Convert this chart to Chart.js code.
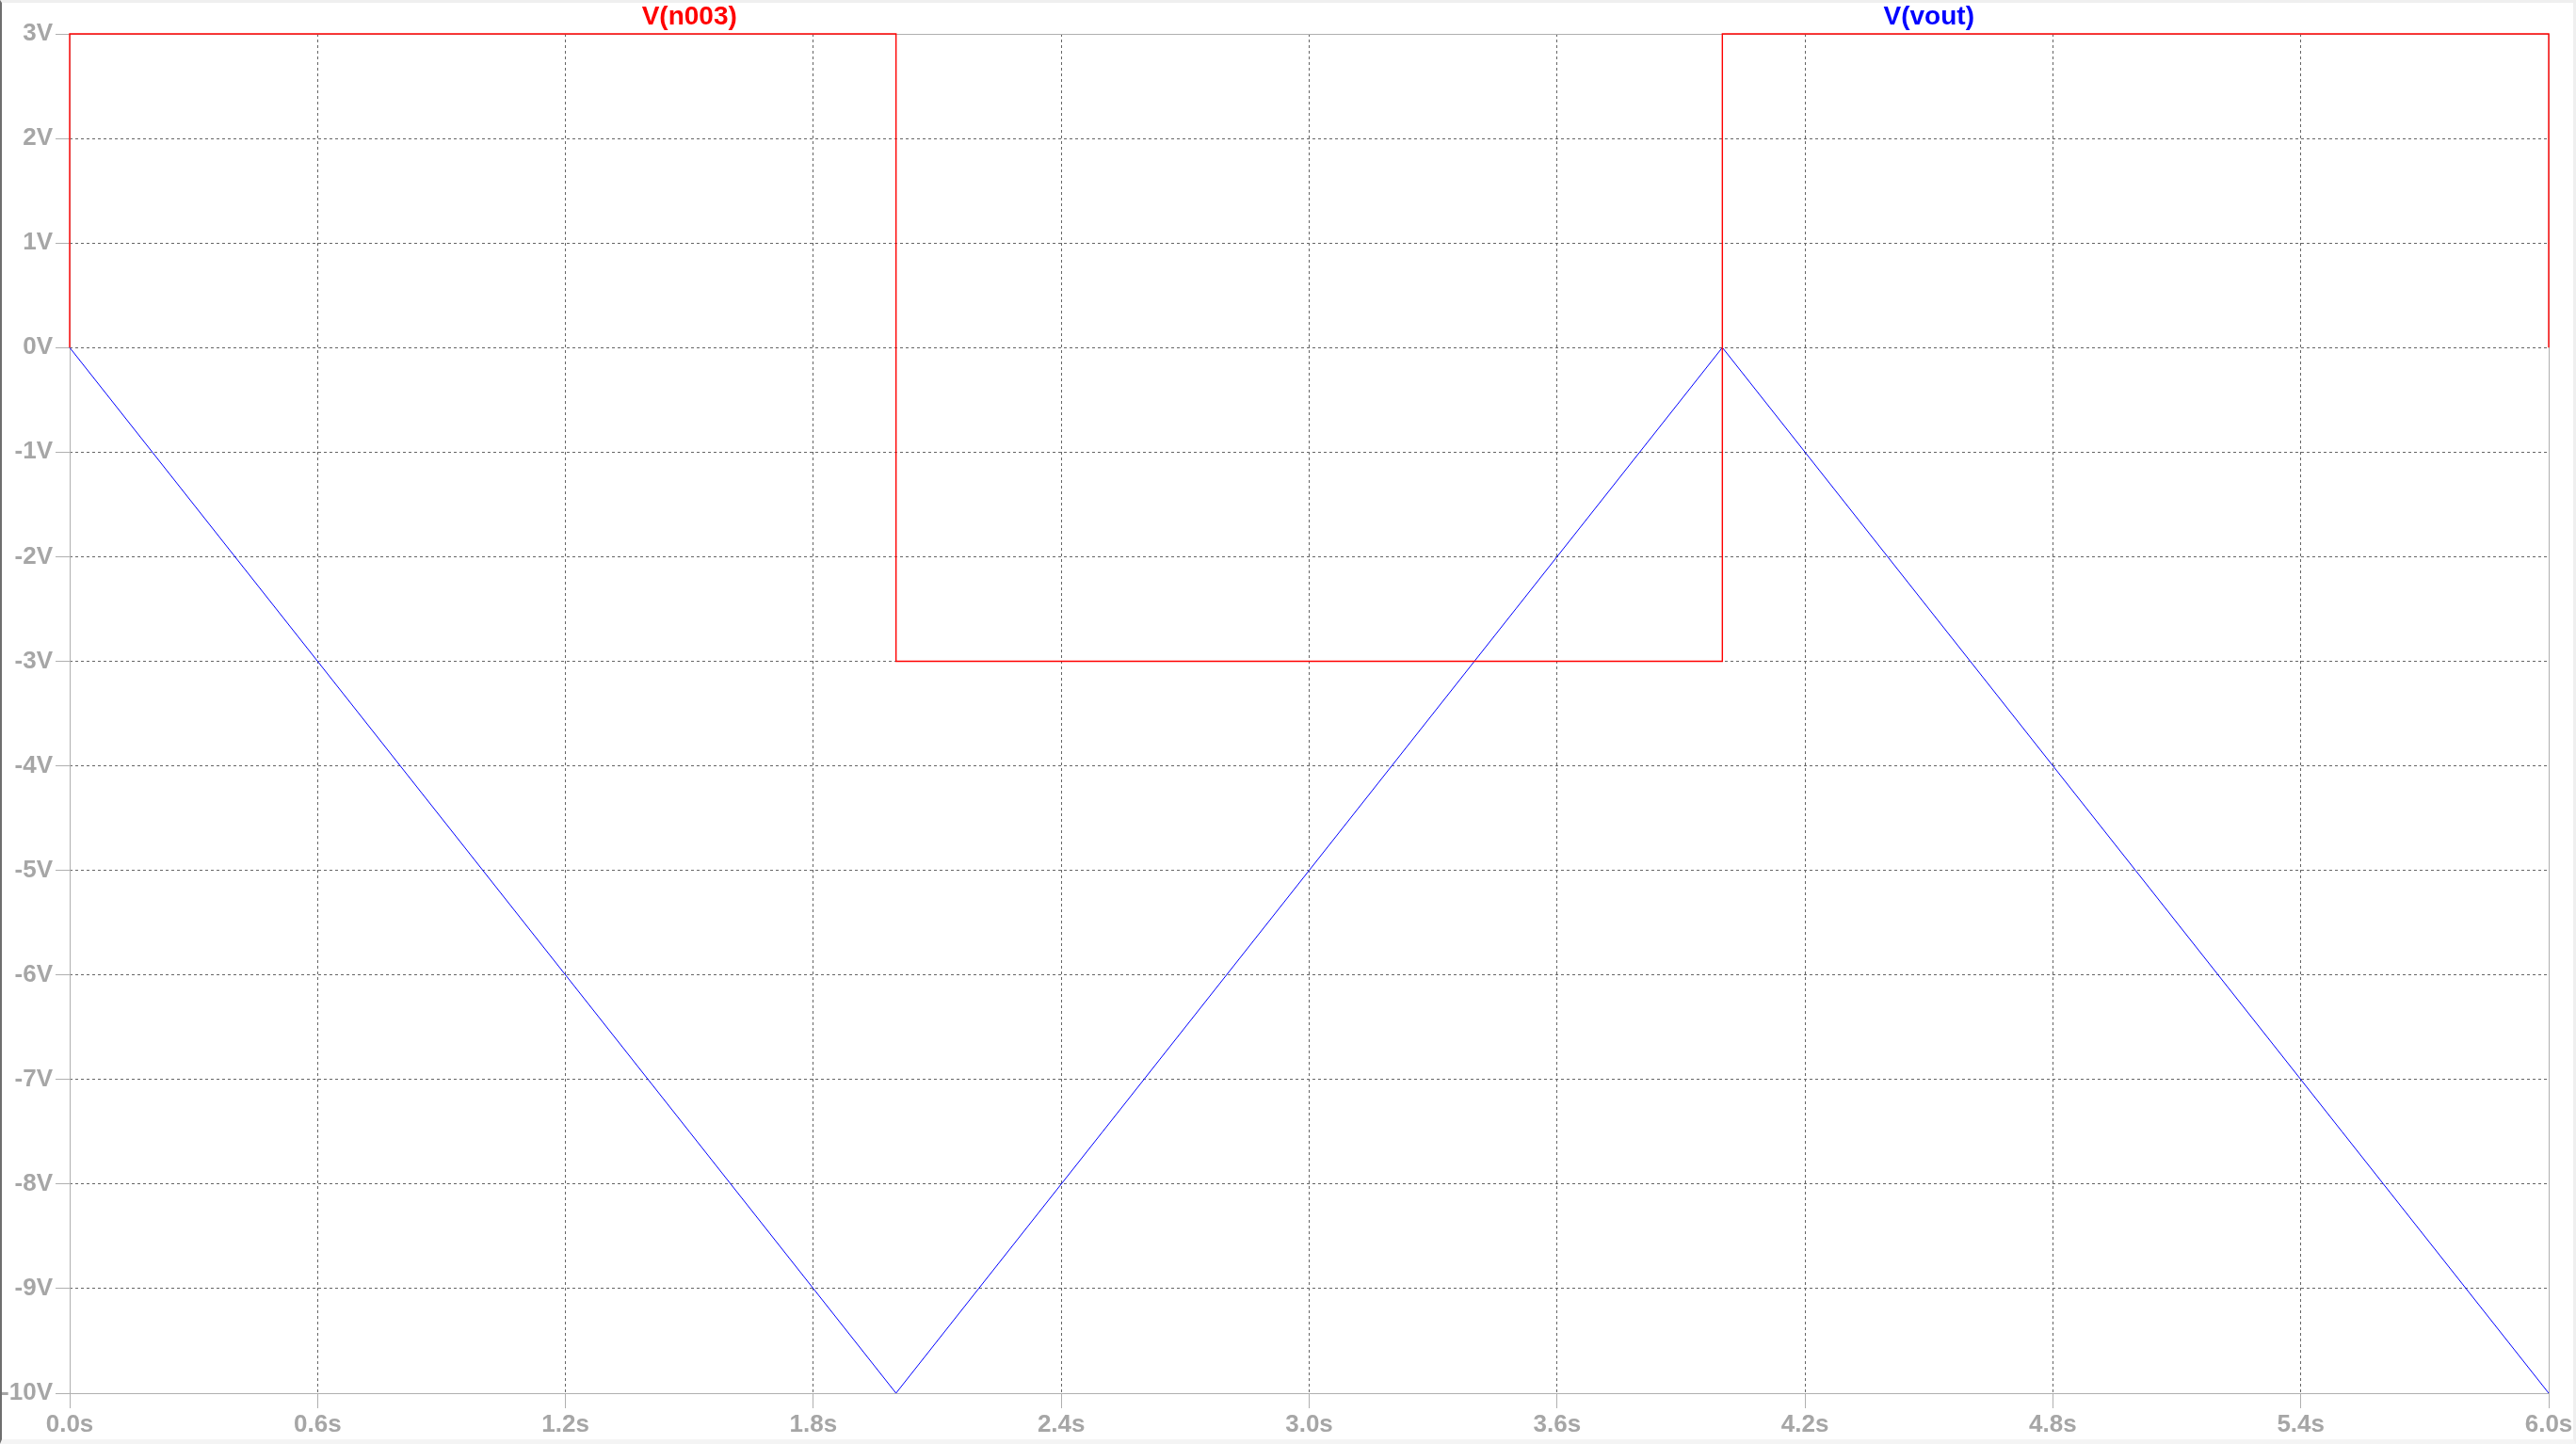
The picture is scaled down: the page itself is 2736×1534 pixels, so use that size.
<!DOCTYPE html>
<html>
<head>
<meta charset="utf-8">
<script src="https://cdn.jsdelivr.net/npm/chart.js@4.4.1/dist/chart.umd.min.js"></script>
<style>
  html, body { margin: 0; padding: 0; background: #fff; overflow: hidden; }
  #wrap { position: absolute; left: 0; top: 0; width: 2736px; height: 1534px; }
  #frame { position: absolute; left: 0; top: 0; width: 2736px; height: 1534px; box-sizing: border-box;
           border-left: 2px solid #6e6e6e; border-top: 3px solid #efefef; border-right: 3px solid #efefef;
           border-bottom: 5px solid #f4f4f4; pointer-events: none; }
</style>
</head>
<body>
<div id="wrap"><canvas id="c" width="2736" height="1534"></canvas></div>
<div id="frame"></div>
<script>
// ---- data ----
const seriesNames = ['V(n003)', 'V(vout)'];
const seriesColors = ['#ff0000', '#0000ff'];
const tN003 = [0, 0, 2, 2, 4, 4, 6, 6];
const vN003 = [0, 3, 3, -3, -3, 3, 3, 0];
const tVout = [0, 2, 4, 6];
const vVout = [0, -10, 0, -10];
const xTicks = [0, 0.6, 1.2, 1.8, 2.4, 3.0, 3.6, 4.2, 4.8, 5.4, 6.0];
const yTicks = [3, 2, 1, 0, -1, -2, -3, -4, -5, -6, -7, -8, -9, -10];

const toPts = (xs, ys) => xs.map((x, i) => ({ x: x, y: ys[i] }));

const FONT = "'Liberation Sans', Arial, sans-serif";
const labelColor = '#a6a6a6';

const framePlugin = {
  id: 'frame',
  beforeDraw(chart) {
    const c = chart.ctx;
    c.save();
    c.fillStyle = '#ffffff';
    c.fillRect(0, 0, chart.width, chart.height);
    c.restore();
  },
  beforeDatasetsDraw(chart) {
    const a = chart.chartArea, c = chart.ctx;
    c.save();
    c.strokeStyle = '#b0b0b0';
    c.lineWidth = 1;
    c.setLineDash([]);
    c.strokeRect(Math.round(a.left) + 0.5, Math.round(a.top) + 0.5,
                 Math.round(a.right - a.left), Math.round(a.bottom - a.top));
    c.restore();
  },
  afterDraw(chart) {
    const a = chart.chartArea, c = chart.ctx;
    c.save();
    c.font = 'bold 28px ' + FONT;
    c.textAlign = 'center';
    c.textBaseline = 'middle';
    const w = a.right - a.left;
    const n = seriesNames.length;
    seriesNames.forEach((name, i) => {
      c.fillStyle = seriesColors[i];
      c.fillText(name, a.left + w * (2 * i + 1) / (2 * n), 18);
    });
    c.restore();
  }
};

const gridColor = (edgeVals) => (ctx) => {
  const v = ctx.tick ? ctx.tick.value : null;
  if (v === null) return '#666666';
  if (edgeVals.some(e => Math.abs(e - v) < 1e-9)) return 'rgba(0,0,0,0)';
  return '#666666';
};

new Chart(document.getElementById('c'), {
  type: 'scatter',
  data: {
    datasets: [
      {
        label: seriesNames[0],
        data: toPts(tN003, vN003),
        showLine: true,
        borderColor: seriesColors[0],
        borderWidth: 1.4,
        pointRadius: 0,
        tension: 0,
        clip: 3
      },
      {
        label: seriesNames[1],
        data: toPts(tVout, vVout),
        showLine: true,
        borderColor: seriesColors[1],
        borderWidth: 1,
        pointRadius: 0,
        tension: 0,
        clip: 3
      }
    ]
  },
  options: {
    responsive: false,
    devicePixelRatio: 1,
    animation: false,
    layout: { padding: { top: 36, right: 29, left: 0, bottom: 0 } },
    plugins: { legend: { display: false }, title: { display: false }, tooltip: { enabled: false } },
    scales: {
      x: {
        type: 'linear',
        min: xTicks[0],
        max: xTicks[xTicks.length - 1],
        afterBuildTicks: (s) => { s.ticks = xTicks.map(v => ({ value: v })); },
        afterFit: (s) => { s.height = 54; },
        border: { display: false, dash: [3, 3] },
        grid: {
          color: gridColor([xTicks[0], xTicks[xTicks.length - 1]]),
          lineWidth: 1,
          tickColor: '#b0b0b0',
          tickLength: 16,
          tickBorderDash: []
        },
        ticks: {
          color: labelColor,
          font: { family: FONT, size: 26, weight: 'bold' },
          padding: 2,
          maxRotation: 0,
          autoSkip: false,
          callback: (v) => Number(v).toFixed(1) + 's'
        }
      },
      y: {
        type: 'linear',
        min: yTicks[yTicks.length - 1],
        max: yTicks[0],
        afterBuildTicks: (s) => { s.ticks = yTicks.slice().reverse().map(v => ({ value: v })); },
        afterFit: (s) => { s.width = 74; },
        border: { display: false, dash: [3, 3] },
        grid: {
          color: gridColor([yTicks[0], yTicks[yTicks.length - 1]]),
          lineWidth: 1,
          tickColor: '#b0b0b0',
          tickLength: 15,
          tickBorderDash: []
        },
        ticks: {
          color: labelColor,
          font: { family: FONT, size: 26, weight: 'bold' },
          padding: 3,
          autoSkip: false,
          callback: (v) => v + 'V'
        }
      }
    }
  },
  plugins: [framePlugin]
});
</script>
</body>
</html>
